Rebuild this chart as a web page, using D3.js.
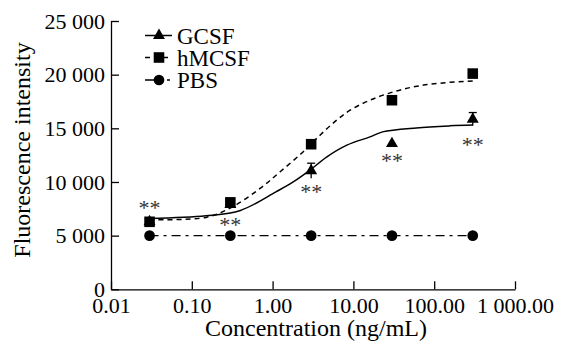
<!DOCTYPE html>
<html>
<head>
<meta charset="utf-8">
<script src="https://cdn.jsdelivr.net/npm/d3@7"></script>
</head>
<body style="margin:0;padding:0;background:#fff">
<svg id="chart" width="566" height="345"></svg>
<script>
// ---- data ----
const concentrations = [0.03, 0.3, 3, 30, 300];
const gcsfValues  = [6300, 7900, 11050, 13570, 15850];
const gcsfErrors  = [0, 0, 700, 0, 620];
const hmcsfValues = [6290, 8100, 13520, 17620, 20100];
const pbsValues   = [5000, 5000, 5000, 5000, 5000];

// fitted curves (concentration, intensity)
const gcsfFitConc  = [0.03, 0.15, 0.4, 1.1, 1.8, 2.9, 4.7, 8.3, 16, 23, 60, 157, 300];
const gcsfFitVal   = [6600, 6850, 7350, 9080, 10000, 11100, 12340, 13430, 14200, 14670, 15040, 15230, 15300];
const hmcsfFitConc = [0.03, 0.15, 0.32, 0.7, 1.24, 2.38, 3.86, 6.2, 9.1, 16, 31, 61, 128, 300];
const hmcsfFitVal  = [6500, 6700, 7690, 9400, 10950, 12800, 14360, 15760, 16690, 17620, 18390, 18920, 19230, 19420];

// significance marks (level in intensity units)
const starLevels = [7940, 6360, 9430, 12310, 13800];

const yTickValues = [0, 5000, 10000, 15000, 20000, 25000];
const yTickLabels = ["0", "5 000", "10 000", "15 000", "20 000", "25 000"];
const xTickValues = [0.01, 0.1, 1, 10, 100, 1000];
const xTickLabels = ["0.01", "0.10", "1.00", "10.00", "100.00", "1 000.00"];

const seriesNames = ["GCSF", "hMCSF", "PBS"];

// ---- drawing ----
const FONT = "Times New Roman, Liberation Serif, Tinos, serif";
const svg = d3.select("#chart");
const x = d3.scaleLog().domain([0.01, 1000]).range([111, 515]);
const y = d3.scaleLinear().domain([0, 25000]).range([289.3, 21]);

// Y axis
const gy = svg.append("g").attr("transform", "translate(111,0)")
  .call(d3.axisLeft(y).tickValues(yTickValues).tickFormat((d, i) => yTickLabels[i])
    .tickSizeInner(-8).tickSizeOuter(0).tickPadding(6));
gy.attr("font-family", FONT).attr("font-size", 22);
gy.select(".domain").attr("stroke", "#000").attr("stroke-width", 1.3);
gy.selectAll(".tick line").attr("stroke", "#000").attr("stroke-width", 1.3);
gy.selectAll(".tick text").attr("fill", "#000").attr("font-family", FONT);

// X axis
const gx = svg.append("g").attr("transform", "translate(0,289.3)")
  .call(d3.axisBottom(x).tickValues(xTickValues).tickFormat((d, i) => xTickLabels[i])
    .tickSizeInner(-8).tickSizeOuter(0).tickPadding(6));
gx.attr("font-family", FONT).attr("font-size", 22);
gx.select(".domain").attr("stroke", "#000").attr("stroke-width", 1.3);
gx.selectAll(".tick line").attr("stroke", "#000").attr("stroke-width", 1.3);
gx.selectAll(".tick text").attr("fill", "#000").attr("font-family", FONT).attr("y", 24).attr("dy", 0);

// axis titles
svg.append("text").attr("x", 316).attr("y", 336).attr("text-anchor", "middle")
  .attr("font-family", FONT).attr("font-size", 24).text("Concentration (ng/mL)");
svg.append("text").attr("transform", "translate(30,150) rotate(-90)").attr("text-anchor", "middle")
  .attr("font-family", FONT).attr("font-size", 24).text("Fluorescence intensity");

// fitted curves
const line = d3.line().x(d => x(d[0])).y(d => y(d[1])).curve(d3.curveCatmullRom.alpha(0.5));
svg.append("path").datum(d3.zip(gcsfFitConc, gcsfFitVal)).attr("d", line)
  .attr("fill", "none").attr("stroke", "#000").attr("stroke-width", 1.5);
svg.append("path").datum(d3.zip(hmcsfFitConc, hmcsfFitVal)).attr("d", line)
  .attr("fill", "none").attr("stroke", "#000").attr("stroke-width", 1.5).attr("stroke-dasharray", "5,4");
// PBS dash-dot line
svg.append("path").datum(d3.zip(concentrations, pbsValues)).attr("d", d3.line().x(d => x(d[0])).y(d => y(d[1])))
  .attr("fill", "none").attr("stroke", "#000").attr("stroke-width", 1.3).attr("stroke-dasharray", "9,5,3,5");

// error bars (GCSF)
const eb = svg.append("g").attr("stroke", "#000").attr("stroke-width", 1.3);
concentrations.forEach((c, i) => {
  const e = gcsfErrors[i];
  if (!e) return;
  const cx = x(c);
  eb.append("line").attr("x1", cx).attr("x2", cx).attr("y1", y(gcsfValues[i] - e)).attr("y2", y(gcsfValues[i] + e));
  eb.append("line").attr("x1", cx - 4).attr("x2", cx + 4).attr("y1", y(gcsfValues[i] + e)).attr("y2", y(gcsfValues[i] + e));
});

const triSym = d3.symbol().type(d3.symbolTriangle).size(62);
const sqSym = d3.symbol().type(d3.symbolSquare).size(112);
const ciSym = d3.symbol().type(d3.symbolCircle).size(90);

// markers
svg.append("g").selectAll("path").data(concentrations).join("path")
  .attr("d", triSym).attr("transform", (d, i) => `translate(${x(d)},${y(gcsfValues[i])})`).attr("fill", "#000");
svg.append("g").selectAll("path").data(concentrations).join("path")
  .attr("d", sqSym).attr("transform", (d, i) => `translate(${x(d)},${y(hmcsfValues[i])})`).attr("fill", "#000");
svg.append("g").selectAll("path").data(concentrations).join("path")
  .attr("d", ciSym).attr("transform", (d, i) => `translate(${x(d)},${y(pbsValues[i])})`).attr("fill", "#000");

// significance stars
svg.append("g").attr("font-family", FONT).attr("font-size", 22).attr("fill", "#333")
  .selectAll("text").data(concentrations).join("text")
  .attr("font-family", FONT)
  .attr("x", d => x(d)).attr("y", (d, i) => y(starLevels[i]) + 11)
  .attr("text-anchor", "middle").text("**");

// legend
const legend = svg.append("g").attr("font-family", FONT).attr("font-size", 23);
const rows = [35.5, 57.5, 80];
legend.append("line").attr("x1", 145).attr("x2", 172).attr("y1", rows[0]).attr("y2", rows[0])
  .attr("stroke", "#000").attr("stroke-width", 1.5);
legend.append("path").attr("d", triSym).attr("transform", `translate(159,${rows[0]})`);
legend.append("line").attr("x1", 145).attr("x2", 172).attr("y1", rows[1]).attr("y2", rows[1])
  .attr("stroke", "#000").attr("stroke-width", 1.5).attr("stroke-dasharray", "5,4");
legend.append("path").attr("d", sqSym).attr("transform", `translate(159,${rows[1]})`);
legend.append("line").attr("x1", 145).attr("x2", 172).attr("y1", rows[2]).attr("y2", rows[2])
  .attr("stroke", "#000").attr("stroke-width", 1.3).attr("stroke-dasharray", "9,13,3,5");
legend.append("path").attr("d", ciSym).attr("transform", `translate(159,${rows[2]})`);
legend.selectAll("text").data(seriesNames).join("text")
  .attr("font-family", FONT)
  .attr("x", 177).attr("y", (d, i) => rows[i] + 8).text(d => d);
</script>
</body>
</html>
